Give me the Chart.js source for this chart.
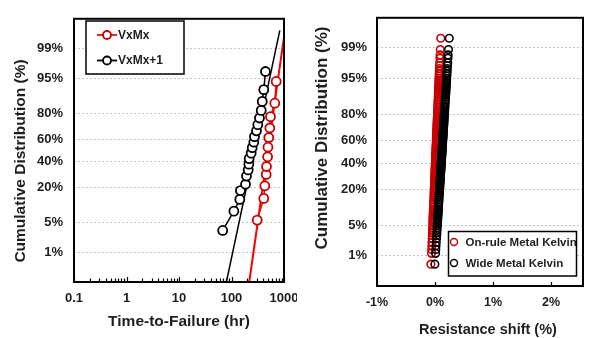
<!DOCTYPE html>
<html><head><meta charset="utf-8">
<script src="https://cdn.jsdelivr.net/npm/chart.js@4.4.1/dist/chart.umd.min.js"></script>
<style>
html,body{margin:0;padding:0;background:#fff;}
body{width:589px;height:338px;position:relative;overflow:hidden;}
#lw{position:absolute;left:0;top:0;width:297px;height:338px;overflow:hidden;}
#rw{position:absolute;left:300px;top:0;width:289px;height:338px;overflow:hidden;}
canvas{display:block;}
</style></head><body>
<div id="lw"><canvas id="c1" width="330" height="338"></canvas></div>
<div id="rw"><canvas id="c2" width="289" height="338"></canvas></div>
<script>
// ---------- DATA ----------
const yTickPct = [1, 5, 20, 40, 60, 80, 95, 99];
const timeTicks = [0.1, 1, 10, 100, 1000];
const resTicks = [-1, 0, 1, 2];

const vxmxTime = [309, 412, 431, 458, 464, 487, 495, 513, 537, 553, 668, 710];
const vxmxPct  = [5.6, 13.7, 21.0, 29.2, 35.7, 44.2, 52.9, 61.5, 69.5, 77.9, 85.9, 94.2];
const vxmx1Time = [68, 111, 144, 148, 185, 193, 208, 214, 217, 237, 248, 266, 274, 299, 317, 341, 368, 385, 412, 444];
const vxmx1Pct  = [3.4, 8.3, 13.2, 18.0, 22.0, 27.9, 32.8, 37.7, 42.6, 47.5, 52.5, 57.4, 62.3, 67.2, 72.1, 77.0, 81.9, 86.8, 91.7, 96.4];
const fitVxMxTime = [218, 1000];
const fitVxMxPct  = [0.135, 99.52];
const fitVxMx1Time = [80, 832];
const fitVxMx1Pct  = [0.135, 99.69];

const cumPct = [0.6,1.16,1.46,1.79,2.17,2.62,3.07,3.5,4,4.5,5,5.5,6,6.5,7,7.5,8,8.5,9,9.5,
 10,11,12,13,14,15,16,17,18,19,20,21,22,23,24,25,26,27,28,29,30,31,32,33,34,35,36,37,38,39,
 40,41,42,43,44,45,46,47,48,49,50,51,52,53,54,55,56,57,58,59,60,61,62,63,64,65,66,67,68,69,
 70,71,72,73,74,75,76,77,78,79,80,81,82,83,84,85,86,87,88,89,90,
 90.5,91,91.5,92,92.5,93,93.5,94,94.5,95,95.5,96,96.5,96.9,97.3,97.7,98.2,98.5,98.9,99.45];
const onRuleShift = [-0.071,-0.060,-0.057,-0.054,-0.052,-0.049,-0.047,-0.045,-0.043,-0.041,
 -0.039,-0.038,-0.036,-0.035,-0.034,-0.033,-0.031,-0.030,-0.029,-0.028,
 -0.027,-0.025,-0.024,-0.022,-0.021,-0.019,-0.018,-0.016,-0.015,-0.014,
 -0.013,-0.012,-0.010,-0.009,-0.008,-0.007,-0.006,-0.005,-0.004,-0.003,
 -0.002,-0.001,0.000,0.000,0.001,0.002,0.003,0.004,0.005,0.006,
 0.007,0.007,0.008,0.009,0.010,0.011,0.012,0.013,0.013,0.014,
 0.015,0.016,0.017,0.017,0.018,0.019,0.020,0.021,0.022,0.023,
 0.023,0.024,0.025,0.026,0.027,0.028,0.029,0.030,0.030,0.031,
 0.032,0.033,0.034,0.035,0.036,0.037,0.038,0.039,0.040,0.042,
 0.043,0.044,0.045,0.046,0.048,0.049,0.051,0.052,0.054,0.055,0.057,
 0.058,0.059,0.060,0.061,0.063,0.064,0.065,0.066,0.068,0.069,
 0.071,0.073,0.075,0.077,0.079,0.081,0.084,0.087,0.091,0.099];
const wideShift = [-0.003,0.009,0.013,0.017,0.021,0.025,0.028,0.031,0.034,0.037,
 0.039,0.042,0.044,0.046,0.048,0.049,0.051,0.053,0.054,0.056,
 0.057,0.060,0.062,0.065,0.067,0.069,0.071,0.073,0.075,0.077,
 0.079,0.081,0.082,0.084,0.085,0.087,0.088,0.090,0.091,0.093,
 0.094,0.096,0.097,0.098,0.100,0.101,0.102,0.104,0.105,0.106,
 0.108,0.109,0.110,0.111,0.113,0.114,0.115,0.116,0.118,0.119,
 0.120,0.121,0.122,0.124,0.125,0.126,0.127,0.129,0.130,0.131,
 0.132,0.134,0.135,0.136,0.138,0.139,0.140,0.142,0.143,0.144,
 0.146,0.147,0.149,0.150,0.152,0.153,0.155,0.156,0.158,0.159,
 0.161,0.163,0.165,0.167,0.169,0.171,0.173,0.175,0.178,0.180,0.183,
 0.184,0.186,0.187,0.189,0.191,0.192,0.194,0.196,0.198,0.201,
 0.203,0.206,0.209,0.211,0.214,0.218,0.223,0.226,0.232,0.245];

// ---------- helpers ----------
function probit(p){
  const a=[-3.969683028665376e+01,2.209460984245205e+02,-2.759285104469687e+02,1.383577518672690e+02,-3.066479806614716e+01,2.506628277459239e+00];
  const b=[-5.447609879822406e+01,1.615858368580409e+02,-1.556989798598866e+02,6.680131188771972e+01,-1.328068155288572e+01];
  const c=[-7.784894002430293e-03,-3.223964580411365e-01,-2.400758277161838e+00,-2.549732539343734e+00,4.374664141464968e+00,2.938163982698783e+00];
  const d=[7.784695709041462e-03,3.224671290700398e-01,2.445134137142996e+00,3.754408661907416e+00];
  const pl=0.02425, ph=1-pl;
  if(p<pl){const q=Math.sqrt(-2*Math.log(p));return (((((c[0]*q+c[1])*q+c[2])*q+c[3])*q+c[4])*q+c[5])/((((d[0]*q+d[1])*q+d[2])*q+d[3])*q+1);}
  if(p<=ph){const q=p-0.5,r=q*q;return (((((a[0]*r+a[1])*r+a[2])*r+a[3])*r+a[4])*r+a[5])*q/(((((b[0]*r+b[1])*r+b[2])*r+b[3])*r+b[4])*r+1);}
  const q=Math.sqrt(-2*Math.log(1-p));return -(((((c[0]*q+c[1])*q+c[2])*q+c[3])*q+c[4])*q+c[5])/((((d[0]*q+d[1])*q+d[2])*q+d[3])*q+1);
}
const pts = (xs, ps) => xs.map((x,i)=>({x:x, y:probit(ps[i]/100)}));

const FONT = '"Liberation Sans", Arial, sans-serif';
const TXT = '#1e1e1e';
Chart.defaults.font.family = FONT;
Chart.defaults.font.weight = 'bold';
Chart.defaults.color = TXT;

const framePlugin = {
  id:'frame',
  afterDatasetsDraw(chart, args, o){
    const {ctx, chartArea:a} = chart; const xs = chart.scales.x;
    ctx.save();
    ctx.strokeStyle='#000';
    ctx.lineWidth=1.2;
    (o.ticks||[]).forEach(t=>{
      const px = Math.round(xs.getPixelForValue(t.v))+0.5;
      ctx.beginPath(); ctx.moveTo(px,a.bottom); ctx.lineTo(px,a.bottom-t.len); ctx.stroke();
    });
    ctx.lineWidth=2;
    ctx.strokeRect(a.left,a.top,a.right-a.left,a.bottom-a.top);
    ctx.restore();
  }
};
const legendPlugin = {
  id:'boxLegend',
  afterDraw(chart, args, o){
    const ctx = chart.ctx; const [x1,y1,x2,y2] = o.box;
    ctx.save();
    ctx.fillStyle='#fff'; ctx.fillRect(x1,y1,x2-x1,y2-y1);
    ctx.strokeStyle='#000'; ctx.lineWidth=1.5; ctx.strokeRect(x1,y1,x2-x1,y2-y1);
    o.items.forEach(it=>{
      const ds = chart.data.datasets[it.ds];
      if(it.line){
        ctx.strokeStyle=ds.borderColor; ctx.lineWidth=1.8;
        ctx.beginPath(); ctx.moveTo(it.line[0],it.y); ctx.lineTo(it.line[1],it.y); ctx.stroke();
      }
      ctx.beginPath(); ctx.arc(it.mx,it.y,it.r,0,Math.PI*2);
      ctx.fillStyle='#fff'; ctx.fill();
      ctx.strokeStyle=ds.pointBorderColor||ds.borderColor; ctx.lineWidth=it.lw; ctx.stroke();
      ctx.fillStyle=TXT; ctx.font='bold '+o.size+'px '+FONT;
      ctx.textAlign='left'; ctx.textBaseline='middle';
      ctx.fillText(ds.label, it.tx, it.y+0.5);
    });
    ctx.restore();
  }
};
const titlePlugin = {
  id:'axisTitles',
  afterDraw(chart, args, o){
    const ctx = chart.ctx;
    o.titles.forEach(t=>{
      ctx.save();
      ctx.translate(t.x,t.y); ctx.rotate(t.rot||0);
      ctx.font='bold '+t.size+'px '+FONT; ctx.fillStyle=TXT;
      ctx.textAlign='center'; ctx.textBaseline='middle';
      ctx.fillText(t.text,0,0);
      ctx.restore();
    });
  }
};

function yScale(width, pad, size){
  return {
    min:-3, max:3,
    afterFit: s => { s.width = width; },
    afterBuildTicks: s => { s.ticks = yTickPct.map(p=>({value: probit(p/100)})); },
    ticks:{ callback:(v,i)=> yTickPct[i]+'%', padding:pad, font:{size:size, weight:'bold'}, color:TXT },
    grid:{ color:'#c4c4c4', lineWidth:1, drawTicks:false },
    border:{ display:false, dash:[2,2] }
  };
}

// ---------- LEFT CHART ----------
const minorTicks = [];
timeTicks.forEach((d,i)=>{
  if(i===timeTicks.length-1){ minorTicks.push({v:d,len:5}); return; }
  for(let k=1;k<=9;k++) minorTicks.push({v:d*k, len:k===1?5:3.5});
});

new Chart(document.getElementById('c1'), {
  type:'scatter',
  data:{ datasets:[
    { label:'VxMx', data:pts(vxmxTime,vxmxPct), showLine:true, borderColor:'#e01010', pointBorderColor:'#c80000',
      backgroundColor:'#fff', pointBackgroundColor:'#fff', borderWidth:1.5, pointRadius:4.5, pointBorderWidth:1.8, order:1 },
    { label:'VxMx+1', data:pts(vxmx1Time,vxmx1Pct), showLine:true, borderColor:'#000', pointBorderColor:'#000',
      backgroundColor:'#fff', pointBackgroundColor:'#fff', borderWidth:1.5, pointRadius:4.5, pointBorderWidth:1.8, order:0 },
    { label:'fit VxMx', data:pts(fitVxMxTime,fitVxMxPct), showLine:true, borderColor:'#ff0000', borderWidth:2, pointRadius:0, order:3 },
    { label:'fit VxMx+1', data:pts(fitVxMx1Time,fitVxMx1Pct), showLine:true, borderColor:'#000', borderWidth:1.5, pointRadius:0, order:2 }
  ]},
  options:{
    responsive:false, animation:false, events:[],
    layout:{ padding:{ top:9, right:46, left:0, bottom:0 } },
    scales:{
      x:{ type:'logarithmic', min:0.1, max:1000,
        afterFit: s => { s.height = 56; },
        afterBuildTicks: s => { s.ticks = timeTicks.map(v=>({value:v})); },
        ticks:{ callback: v => String(v), padding:9, autoSkip:false, maxRotation:0, font:{size:13, weight:'bold'}, color:TXT },
        grid:{ display:false, drawTicks:false }, border:{ display:false } },
      y: yScale(74, 11, 13)
    },
    plugins:{
      legend:{display:false}, tooltip:{enabled:false},
      frame:{ ticks: minorTicks },
      boxLegend:{ box:[86,21,184,74], size:12, items:[
        { ds:0, y:35, line:[97,117], mx:107, r:4, lw:1.8, tx:118 },
        { ds:1, y:60.5, line:[97,117], mx:107, r:4, lw:1.8, tx:118 } ] },
      axisTitles:{ titles:[
        { text:'Cumulative Distribution (%)', x:21, y:161, rot:-Math.PI/2, size:15.5 },
        { text:'Time-to-Failure (hr)', x:179, y:322, size:15.5 } ] }
    }
  },
  plugins:[framePlugin, legendPlugin, titlePlugin]
});

// ---------- RIGHT CHART ----------
new Chart(document.getElementById('c2'), {
  type:'scatter',
  data:{ datasets:[
    { label:'On-rule Metal Kelvin', data:pts(onRuleShift,cumPct), borderColor:'#c80000', pointBorderColor:'#c80000',
      backgroundColor:'rgba(0,0,0,0)', pointRadius:3.8, pointBorderWidth:1.6, order:1 },
    { label:'Wide Metal Kelvin', data:pts(wideShift,cumPct), borderColor:'#000', pointBorderColor:'#000',
      backgroundColor:'rgba(0,0,0,0)', pointRadius:3.8, pointBorderWidth:1.6, order:0 }
  ]},
  options:{
    responsive:false, animation:false, events:[],
    layout:{ padding:{ top:7, right:6, left:0, bottom:0 } },
    scales:{
      x:{ type:'linear', min:-1, max:2.55,
        afterFit: s => { s.height = 52; },
        afterBuildTicks: s => { s.ticks = resTicks.map(v=>({value:v})); },
        ticks:{ callback:(v,i)=> resTicks[i]+'%', padding:9, autoSkip:false, maxRotation:0, font:{size:12.5, weight:'bold'}, color:TXT },
        grid:{ display:false, drawTicks:false }, border:{ display:false } },
      y: yScale(77, 10, 13)
    },
    plugins:{
      legend:{display:false}, tooltip:{enabled:false},
      frame:{ ticks: resTicks.map(v=>({v:v, len:4})) },
      boxLegend:{ box:[148.5,231.5,276.5,276], size:11.5, items:[
        { ds:0, y:242, mx:154, r:3.5, lw:1.4, tx:165.5 },
        { ds:1, y:263, mx:154, r:3.5, lw:1.4, tx:165.5 } ] },
      axisTitles:{ titles:[
        { text:'Cumulative Distribution (%)', x:22.5, y:138, rot:-Math.PI/2, size:17 },
        { text:'Resistance shift (%)', x:188, y:329.5, size:14.5 } ] }
    }
  },
  plugins:[framePlugin, legendPlugin, titlePlugin]
});
</script></body></html>
